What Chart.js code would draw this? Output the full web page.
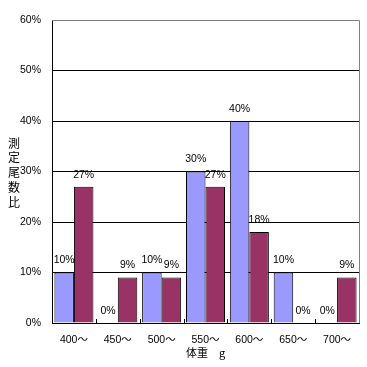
<!DOCTYPE html>
<html>
<head>
<meta charset="utf-8">
<script src="https://cdn.jsdelivr.net/npm/chart.js@4.4.1/dist/chart.umd.min.js"></script>
<style>
  html, body { margin: 0; padding: 0; background: #fff; }
  #wrap { width: 367px; height: 367px; position: relative; }
</style>
</head>
<body>
<div id="wrap"><canvas id="chart"></canvas></div>
<script>
// 体重階級ごとの測定尾数比（%）
const categories = ['400〜', '450〜', '500〜', '550〜', '600〜', '650〜', '700〜'];
const seriesA = [10, 0, 10, 30, 40, 10, 0];
const seriesB = [27, 9, 9, 27, 18, 0, 9];
const yTicks = [0, 10, 20, 30, 40, 50, 60];
const yTitleChars = ['測', '定', '尾', '数', '比'];
const xTitle = '体重　g';

const FONT = "'Liberation Sans', 'Noto Sans CJK JP', sans-serif";
const CJK = "'Noto Sans CJK JP', sans-serif";

// バー上のラベル、縦書きのY軸タイトル、右枠、目盛りを描く
const extras = {
    id: 'extras',
    afterDatasetsDraw(chart) {
        const ctx = chart.ctx;
        const area = chart.chartArea;
        const x = chart.scales.x;
        ctx.save();

        // 右側と上側の灰色の枠
        ctx.strokeStyle = '#808080';
        ctx.lineWidth = 1;
        ctx.beginPath();
        ctx.moveTo(area.left, area.top + 0.5);
        ctx.lineTo(area.right + 0.5, area.top + 0.5);
        ctx.lineTo(area.right + 0.5, area.bottom);
        ctx.stroke();

        // カテゴリ境界の目盛り（内向き）
        ctx.strokeStyle = '#000';
        const half = (x.getPixelForValue(1) - x.getPixelForValue(0)) / 2;
        for (let i = 1; i < categories.length; i++) {
            const px = Math.round(x.getPixelForValue(i) - half) + 0.5;
            ctx.beginPath();
            ctx.moveTo(px, area.bottom);
            ctx.lineTo(px, area.bottom - 4);
            ctx.stroke();
        }

        // 値ラベル
        ctx.fillStyle = '#000';
        ctx.font = '10.5px ' + FONT;
        ctx.textAlign = 'center';
        ctx.textBaseline = 'middle';
        chart.data.datasets.forEach((ds, di) => {
            chart.getDatasetMeta(di).data.forEach((bar, i) => {
                ctx.fillText(ds.data[i] + '%', bar.x, bar.y - 12);
            });
        });

        // 縦書きのY軸タイトル
        ctx.font = '12px ' + CJK;
        yTitleChars.forEach((ch, i) => {
            ctx.fillText(ch, 14, 143 + i * 14.8);
        });
        ctx.restore();
    }
};

new Chart(document.getElementById('chart'), {
    type: 'bar',
    data: {
        labels: categories,
        datasets: [
            {
                label: 'A',
                data: seriesA,
                backgroundColor: '#9999FF',
                borderColor: '#000',
                borderWidth: 1
            },
            {
                label: 'B',
                data: seriesB,
                backgroundColor: '#993366',
                borderColor: '#000',
                borderWidth: 1
            }
        ]
    },
    options: {
        responsive: true,
        maintainAspectRatio: false,
        animation: false,
        layout: { padding: { left: 0, top: 20, right: 8, bottom: 8 } },
        datasets: {
            bar: { categoryPercentage: 0.89, barPercentage: 1.0 }
        },
        scales: {
            x: {
                afterFit: (scale) => { scale.height = 36; },
                grid: { display: false, drawTicks: false },
                border: { display: true, color: '#000', width: 1 },
                ticks: {
                    color: '#000',
                    font: { family: FONT, size: 10.5 },
                    padding: 11,
                    maxRotation: 0
                },
                title: {
                    display: true,
                    text: xTitle,
                    color: '#000',
                    font: { family: CJK, size: 11 },
                    padding: { top: 0, bottom: 0 }
                }
            },
            y: {
                min: 0,
                max: 60,
                afterFit: (scale) => { scale.width = 52; },
                afterBuildTicks: (scale) => {
                    scale.ticks = yTicks.map(v => ({ value: v }));
                },
                grid: {
                    color: (c) => (c.tick && c.tick.value === 60 ? '#808080' : '#000'),
                    drawTicks: false,
                    lineWidth: 1
                },
                border: { display: true, color: '#000', width: 1 },
                ticks: {
                    color: '#000',
                    font: { family: FONT, size: 10.5 },
                    padding: 11,
                    callback: (v) => v + '%'
                }
            }
        },
        plugins: {
            legend: { display: false },
            tooltip: { enabled: false }
        }
    },
    plugins: [extras]
});
</script>
</body>
</html>
